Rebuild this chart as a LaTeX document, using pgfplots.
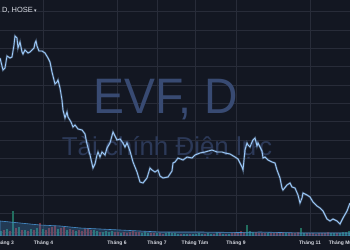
\documentclass[border=0pt]{standalone}
\usepackage{pgfplots}
\usepackage{pgfplotstable}
\pgfplotsset{compat=1.18}
\usepackage{fontspec}
\setmainfont{Liberation Sans}
\newfontfamily\dejavu{DejaVu Sans}
\definecolor{bg}{RGB}{19,23,34}
\definecolor{gridc}{RGB}{40,44,57}
\definecolor{linec}{RGB}{155,200,248}
\definecolor{wm}{RGB}{56,74,114}
\definecolor{wmtwo}{RGB}{44,57,88}
\definecolor{lab}{RGB}{215,218,226}
\definecolor{vgreen}{RGB}{34,110,95}
\definecolor{vred}{RGB}{125,45,55}
\definecolor{vma}{RGB}{70,140,200}

% price: x pixel, y pixel (top = 0)
\pgfplotstableread{
x y
0 58
3 70
5 68
7 56
10 58
12 57
14 45
15 36
17 38
18 48
20 42
22 52
23 54
25 50
28 53
30 52
32 50
34 48
35 43
36 41
37 46
39 51
42 51
45 53
48 58
50 62
52 72
55 84
57 82
58 80
60 88
62 100
63 110
65 118
67 112
68 117
71 122
73 127
75 125
78 129
82 130
85 134
87 144
90 155
93 168
95 164
97 155
98 152
100 157
102 152
105 155
107 148
110 143
113 132
115 136
117 140
120 139
123 143
125 147
127 143
130 151
133 162
137 172
140 182
143 183
147 178
150 168
152 170
155 172
158 170
160 176
163 178
168 177
172 171
173 163
175 162
178 158
183 160
187 157
192 158
195 155
200 153
205 152
212 150
217 152
222 152
225 153
230 154
235 157
238 159
242 167
243 170
245 150
247 143
248 145
250 147
252 142
253 140
255 138
257 146
258 143
262 151
263 158
265 157
268 160
272 162
275 163
277 170
280 178
282 188
283 190
287 185
290 183
292 187
295 188
298 195
300 203
302 198
303 193
307 195
310 197
313 202
317 206
320 208
323 211
327 219
330 221
333 219
337 221
340 224
343 218
347 211
350 203
}\price

\begin{document}
\begin{tikzpicture}
\fill[bg] (0,0) rectangle (350bp,250bp);
\useasboundingbox (0,0) rectangle (350bp,250bp);
\begin{axis}[
  at={(0,14bp)}, anchor=south west,
  width=350bp, height=236bp, scale only axis,
  xmin=0, xmax=350, ymin=14, ymax=250,
  axis line style={draw=none},
  tick style={draw=none},
  major tick length=0pt,
  xtick={43.5,117,157,195,236,310},
  xticklabels={Tháng 4,Tháng 6,Tháng 7,Tháng Tám,Tháng 9,Tháng 11},
  extra x ticks={4.3,348},
  extra x tick labels={Tháng 3,Tháng Mười Hai},
  extra x tick style={grid=none},
  xticklabel style={font=\fontsize{5}{6}\selectfont\bfseries, text=lab, anchor=center, yshift=-7bp},
  ytick={18.1,36.45,54.8,73.15,91.5,109.85,128.2,146.55,164.9,183.25,201.6,219.95,238.3},
  yticklabels={},
  grid=major,
  major grid style={draw=gridc, line width=0.6bp},
  clip=true,
]
\node[anchor=base, text=wm, font=\fontsize{50}{50}\selectfont, xscale=0.93] at (axis cs:166,137) {EVF, D};
\node[anchor=base, text=wmtwo, font=\fontsize{26}{26}\selectfont] at (axis cs:167,95) {Tài chính Điện lực};
\node[anchor=base west, text=lab, font=\fontsize{7.5}{8}\selectfont, inner sep=0pt] at (axis cs:2,237.5) {D, HOSE\,{\dejavu\fontsize{5}{5}\selectfont ▾}};

% volume bars (top = 14 + height in px)
\addplot[ycomb, draw=vgreen, line width=1.6bp, no markers] coordinates {
(1,19)(7,21)(13,39)(19,23)(25,20)(31,21)(37,22)(43,21)(58,21)(67,20)(76,19)(94,20)(97,19)(103,18)(106,19)(109,18)(112,19)(121,17)(142,17)(145,18)(148,17)(157,17)(166,17)(169,18)(172,17)(175,17)(178,16)(184,16)(187,16)(193,16)(196,16)(199,17)(202,16)(208,17)(211,16)(217,17)(223,16)(229,16)(247,25)(250,19)(253,18)(268,17)(286,17)(301,22)(304,17)(331,17)(334,17)(340,17)(343,18)(346,18)(349,19)};
\addplot[ycomb, draw=vred, line width=1.6bp, no markers] coordinates {
(4,20)(10,19)(16,22)(22,20)(28,19)(34,20)(40,27)(46,20)(49,22)(52,23)(55,24)(61,22)(64,23)(70,21)(73,20)(79,20)(82,19)(85,21)(88,22)(91,20)(100,18)(115,18)(118,18)(124,18)(127,17)(130,18)(133,19)(136,18)(139,18)(151,17)(154,17)(160,17)(163,16)(181,16)(190,16)(205,16)(214,16)(220,17)(226,16)(232,17)(235,18)(238,18)(241,19)(244,18)(256,18)(259,17)(262,17)(265,17)(271,17)(274,17)(277,18)(280,18)(283,18)(289,17)(292,17)(295,17)(298,18)(307,17)(310,17)(313,17)(316,16)(319,17)(322,17)(325,17)(328,18)(337,17)};
% volume moving average
\addplot[draw=vma, fill=vma, fill opacity=0.3, line width=0.6bp, no markers] coordinates {
(0,29)(10,28)(20,27)(40,25)(60,24)(80,22)(100,21)(120,20)(140,19)(160,18)(200,18)(240,17.5)(260,18)(280,17.5)(300,17)(350,17)} \closedcycle;

% price line with slight glow
\addplot[draw=linec, opacity=0.25, line width=2.2bp, no markers] table[x=x, y expr=250-\thisrow{y}] {\price};
\addplot[draw=linec, line width=0.9bp, no markers] table[x=x, y expr=250-\thisrow{y}] {\price};
\end{axis}
\end{tikzpicture}
\end{document}
